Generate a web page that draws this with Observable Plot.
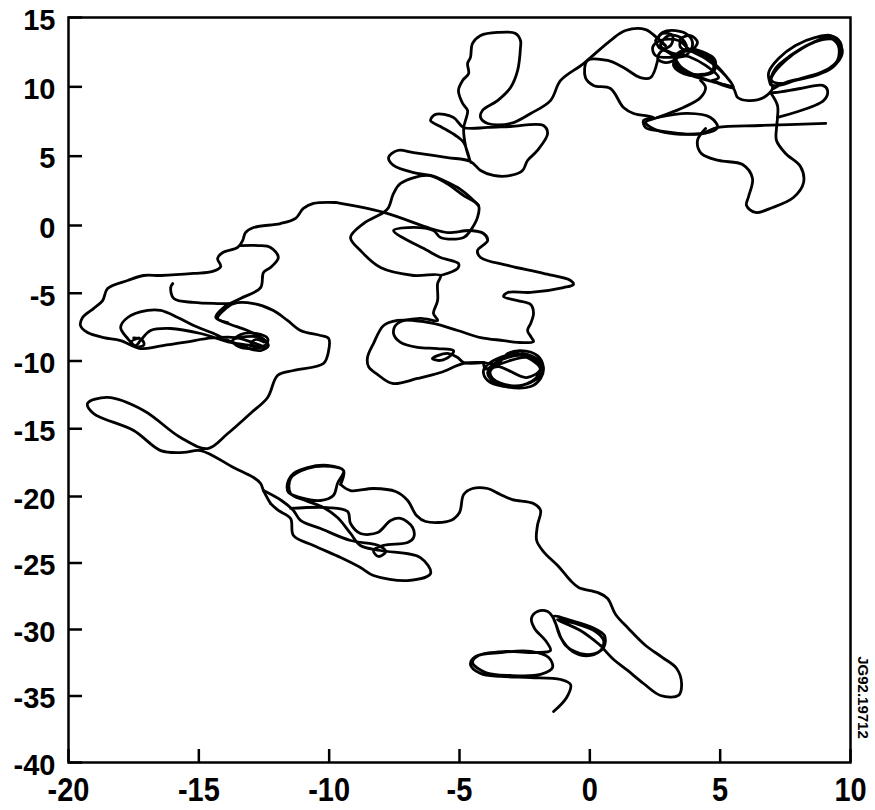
<!DOCTYPE html>
<html><head><meta charset="utf-8">
<script src="https://cdn.jsdelivr.net/npm/d3@7"></script>
<script src="https://cdn.jsdelivr.net/npm/@observablehq/plot@0.6"></script>
<style>html,body{margin:0;padding:0;background:#fff;}</style>
</head><body>
<div id="chart"></div>
<script>
const xTicks = [-20,-15,-10,-5,0,5,10];
const yTicks = [15,10,5,0,-5,-10,-15,-20,-25,-30,-35,-40];
const stamp = "JG92.19712";

const segBottom = [[-1.39,-36.17],[-0.89,-35.11],[-0.74,-34.14],[-1.12,-33.76],[-2.27,-33.61],[-3.43,-33.53],[-4.19,-33.31],[-4.58,-32.63],[-4.38,-32.03],[-3.43,-31.73],[-2.27,-31.65],[-1.58,-32.11],[-1.43,-32.86],[-1.89,-33.38],[-3.04,-33.46],[-4.00,-33.23],[-4.50,-32.48],[-4.27,-31.95],[-3.23,-31.65],[-2.08,-31.73],[-1.51,-31.58],[-1.70,-30.83],[-2.12,-29.92],[-2.24,-29.17],[-2.01,-28.65],[-1.62,-28.65],[-1.39,-29.17],[-1.12,-30.60],[-0.66,-31.65],[0.03,-31.95],[0.53,-31.35],[0.56,-30.45],[0.10,-29.85],[-0.74,-29.32],[-1.39,-29.02],[-1.28,-29.70],[-0.93,-31.20],[-0.17,-31.88],[0.41,-31.58],[0.53,-30.83],[0.22,-30.15],[-0.55,-29.55],[-1.24,-29.25],[-0.36,-30.08],[0.41,-31.20]];
const segTongue = [[0.41,-31.20],[0.87,-32.18],[1.45,-33.08],[2.06,-34.06],[2.71,-34.96],[3.40,-34.96],[3.52,-34.06],[3.33,-32.93],[2.79,-32.11],[2.14,-31.20],[1.48,-29.92],[0.99,-28.87],[0.68,-27.67],[0.30,-27.22],[-0.43,-26.84],[-0.74,-26.32],[-1.20,-25.26],[-1.78,-24.14],[-2.04,-23.31],[-2.01,-22.18],[-1.89,-21.05],[-2.16,-20.53],[-2.97,-20.23],[-3.43,-19.85],[-3.92,-19.41],[-4.50,-19.41],[-4.84,-19.85],[-5.00,-21.20],[-5.34,-21.80],[-6.30,-21.88],[-6.65,-21.43],[-6.99,-20.30],[-7.45,-19.63],[-8.30,-19.41],[-9.18,-19.56],[-9.56,-19.11]];
const segMidLow = [[-9.56,-19.11],[-9.45,-18.08],[-10.06,-17.71],[-10.83,-17.86],[-11.37,-18.30],[-11.60,-19.04],[-11.56,-19.70],[-11.10,-20.08],[-10.33,-20.30],[-9.84,-19.93],[-9.68,-19.04],[-9.45,-18.08],[-9.95,-17.78],[-10.83,-17.93],[-11.48,-18.67],[-11.48,-19.78],[-10.91,-20.30],[-10.22,-20.83],[-9.68,-21.58],[-9.18,-22.78],[-8.80,-23.68],[-8.03,-24.06],[-6.50,-24.59],[-6.11,-25.79],[-6.99,-26.32],[-8.30,-25.94],[-8.80,-25.34],[-9.56,-24.59],[-10.60,-23.68],[-11.37,-22.93],[-11.48,-21.65],[-11.95,-21.05],[-12.25,-20.53]];
const segBump = [[-11.48,-20.90],[-10.06,-20.83],[-9.29,-21.13],[-9.18,-22.03],[-8.80,-22.78],[-8.14,-22.71],[-7.64,-21.80],[-7.26,-21.65],[-6.80,-22.33],[-6.76,-23.08],[-6.99,-23.46],[-7.91,-23.68],[-8.30,-24.06],[-8.11,-24.51],[-7.83,-24.14],[-8.11,-23.68],[-9.18,-23.31],[-10.33,-22.41],[-11.10,-21.80],[-11.37,-21.05],[-11.83,-20.30],[-12.52,-19.56]];
const segLeft = [[-12.25,-20.53],[-12.52,-19.56],[-12.63,-19.04],[-12.90,-18.60],[-13.67,-17.86],[-14.93,-16.61],[-15.58,-16.75],[-16.46,-16.61],[-17.50,-15.13],[-19.04,-13.87],[-19.27,-13.14],[-18.50,-12.69],[-17.12,-13.65],[-15.70,-15.65],[-14.66,-16.46],[-13.89,-15.35],[-13.02,-13.87],[-12.36,-12.69],[-11.98,-11.07],[-11.37,-10.70],[-10.22,-10.18],[-10.02,-9.23],[-10.02,-8.34],[-10.33,-8.12],[-11.10,-7.75],[-11.60,-7.01],[-12.14,-6.27],[-12.90,-5.76],[-13.67,-5.76],[-14.05,-6.27],[-14.28,-6.86],[-13.89,-7.23],[-13.13,-7.75],[-12.55,-8.34],[-12.33,-8.86],[-12.63,-9.23],[-13.21,-9.00],[-13.78,-8.56],[-14.43,-7.97],[-15.20,-7.38],[-15.81,-6.79],[-16.46,-6.27],[-16.96,-6.27],[-17.73,-6.79],[-18.0,-7.53],[-17.73,-8.34],[-17.42,-8.86],[-17.24,-8.49],[-16.85,-7.75],[-16.08,-7.60],[-14.93,-7.97],[-13.78,-8.63],[-13.02,-8.86],[-12.44,-9.00],[-12.82,-8.71],[-13.59,-8.27],[-14.5,-8.3],[-15.5,-8.6],[-16.5,-8.9],[-17.24,-9.08],[-18.0,-8.49],[-18.65,-8.27],[-19.27,-7.90],[-19.54,-7.38],[-19.46,-6.79],[-19.04,-6.13],[-18.69,-5.54],[-18.50,-4.65],[-17.73,-4.06],[-17.12,-3.69],[-16.46,-3.69],[-15.20,-3.54],[-14.47,-3.39],[-14.16,-3.03],[-14.28,-2.44],[-14.08,-1.99],[-13.51,-1.62],[-13.32,-1.11],[-13.21,-0.52],[-12.90,-0.15],[-11.87,0.14],[-11.29,0.51],[-10.99,1.23],[-10.60,1.59],[-9.76,1.66]];
const segLeft2 = [[-16.0,-4.28],[-16.08,-4.58],[-15.96,-5.39],[-15.20,-5.68],[-14.28,-5.76],[-13.67,-5.76]];
const segLeft3 = [[-13.40,-1.48],[-12.71,-1.48],[-12.25,-1.62],[-11.95,-2.36],[-12.25,-3.10],[-12.52,-3.47],[-12.63,-4.58],[-13.40,-5.39],[-14.05,-6.05],[-14.35,-6.79],[-13.89,-7.16]];
const segKnotL = [[-13.71,-8.49],[-13.40,-8.04],[-12.82,-7.97],[-12.36,-8.34],[-12.44,-8.86],[-12.94,-9.08],[-13.48,-8.93],[-13.71,-8.49],[-13.2,-8.2],[-12.6,-8.3],[-12.4,-8.7],[-12.7,-9.0],[-13.0,-8.7],[-12.8,-8.4],[-12.5,-8.6]];
const segKnotL2 = [[-17.5,-8.3],[-17.2,-8.4],[-17.1,-8.8],[-17.4,-8.95],[-17.6,-8.6],[-17.3,-8.3]];
const segMid = [[-9.76,1.66],[-7.91,0.94],[-6.11,-0.22],[-5.46,-0.52],[-4.58,-0.37],[-4.08,-0.59],[-3.92,-1.11],[-4.31,-1.85],[-4.19,-2.36],[-3.15,-2.95],[-1.78,-3.54],[-0.74,-4.06],[-0.63,-4.35],[-1.01,-4.58],[-2.27,-4.94],[-3.15,-4.94],[-3.31,-5.24],[-2.77,-5.54],[-2.27,-5.83],[-2.16,-6.49],[-2.27,-7.23],[-2.39,-7.75],[-2.24,-8.27],[-2.16,-8.56],[-2.77,-8.63],[-3.31,-8.49],[-4.19,-8.27],[-5.07,-7.75],[-6.00,-7.23],[-6.76,-7.01],[-7.38,-7.01],[-7.91,-7.38],[-8.30,-8.71],[-8.53,-9.74],[-8.49,-10.41],[-8.14,-11.00],[-7.57,-11.66],[-6.61,-11.29],[-5.73,-10.85],[-4.84,-10.18],[-4.08,-10.11]];
const segKnot3 = [[-4.08,-10.11],[-3.54,-10.18],[-3.15,-9.45],[-2.66,-9.23],[-2.01,-9.60],[-1.78,-10.48],[-1.89,-11.29],[-2.27,-11.88],[-3.31,-11.88],[-3.92,-11.44],[-4.08,-10.70],[-3.81,-10.11],[-3.23,-9.60],[-2.58,-9.45],[-1.97,-9.96],[-1.85,-10.85],[-2.27,-11.59],[-3.04,-11.81],[-3.73,-11.29],[-3.81,-10.70],[-3.04,-9.96],[-2.27,-9.74],[-1.89,-10.33],[-2.08,-11.29],[-2.85,-11.88],[-3.62,-11.66],[-3.92,-10.85],[-3.54,-10.41],[-2.43,-11.22],[-1.9,-10.6],[-2.6,-9.6],[-3.4,-9.9],[-4.0,-10.6],[-4.08,-10.11]];
const segMid2 = [[-4.08,-10.11],[-4.84,-10.11],[-5.07,-9.74],[-5.42,-9.45],[-5.84,-9.60],[-6.04,-9.82],[-5.73,-9.96],[-5.34,-9.60],[-5.23,-9.23],[-5.84,-9.08],[-6.61,-9.00],[-7.26,-8.63],[-7.53,-7.97],[-7.38,-7.23],[-6.50,-6.86],[-5.84,-7.01],[-6.00,-6.49],[-5.84,-5.54],[-5.84,-4.28],[-5.73,-3.69],[-6.76,-3.69],[-8.03,-3.10],[-8.80,-1.85],[-9.18,-0.89],[-8.68,0.14],[-7.91,0.94],[-7.72,1.30],[-7.53,2.31],[-7.26,3.03],[-6.23,3.61],[-5.61,3.17],[-4.84,2.16],[-4.27,1.44],[-4.31,0.58],[-4.58,-0.37],[-4.84,-0.89],[-5.73,-0.89],[-6.0,-0.37],[-6.99,-0.15],[-7.53,-0.37],[-6.23,-1.85],[-5.73,-2.36],[-5.04,-2.80],[-5.07,-3.17],[-5.73,-3.69]];
const segUpper = [[-4.27,1.44],[-4.58,2.02],[-5.07,2.74],[-5.61,3.25],[-6.11,3.61],[-6.76,3.82],[-7.53,4.33],[-7.72,4.90],[-7.38,5.41],[-6.76,5.26],[-5.46,4.90],[-4.58,4.62],[-4.19,3.97],[-3.70,3.61],[-3.04,3.61],[-2.58,3.97],[-2.39,4.69],[-2.01,5.41],[-1.62,6.63],[-1.78,7.21],[-3.04,7.14],[-3.92,7.07],[-4.84,7.07],[-5.23,7.79],[-5.92,8.01],[-6.11,7.57],[-5.73,7.14],[-5.15,6.49],[-4.84,5.99],[-4.69,5.26],[-4.58,4.54],[-4.77,5.77],[-4.84,7.07],[-4.77,7.57],[-4.69,8.29],[-4.88,8.80],[-5.04,9.74],[-4.88,10.46],[-4.65,10.96],[-4.69,11.68],[-4.58,12.12],[-4.50,13.13],[-4.19,13.70],[-3.54,13.92],[-2.85,13.85],[-2.66,13.34],[-2.66,12.84],[-2.77,11.18],[-3.04,9.95],[-3.54,9.01],[-4.12,8.29],[-4.19,7.79],[-3.92,7.36],[-3.04,7.36],[-2.27,8.08],[-1.51,9.01],[-1.12,10.46],[-0.24,11.68],[0.79,13.34],[1.37,14.06],[2.14,14.13],[2.60,13.49],[2.90,12.98]];
const segKnot1 = [[2.90,12.98],[2.64,13.49],[2.79,13.92],[3.29,14.06],[3.79,13.70],[3.94,12.98],[3.67,12.26],[3.10,12.12],[2.52,12.26],[2.41,12.84],[2.71,13.34],[3.40,13.34],[3.86,12.62],[4.44,12.04],[5.01,11.18],[5.47,10.10],[5.01,10.24],[4.25,10.60],[3.67,11.03],[3.29,11.75],[3.48,12.48],[4.06,12.48],[4.63,11.90],[5.20,10.82],[5.51,9.95],[4.82,10.31],[4.06,10.82],[3.48,11.47],[3.17,12.26],[2.79,12.62],[2.60,12.04],[2.90,11.75],[3.33,12.04],[3.71,12.84],[3.48,13.56],[3.02,13.70],[2.71,12.98],[3.10,12.48],[3.79,12.19],[4.44,11.54],[4.94,10.67],[4.71,10.46]];
const segKnot1b = [[3.29,12.26],[3.67,12.62],[4.25,12.48],[4.71,11.90],[4.71,11.18],[4.25,10.89],[3.67,11.03],[3.29,11.54],[3.29,12.26],[3.75,12.70],[4.30,12.55],[4.80,11.95],[4.75,11.10],[4.20,10.80],[3.60,10.95],[3.22,11.50],[3.29,12.26]];
const segKnot1c = [[2.52,13.34],[2.79,13.85],[3.17,13.70],[3.10,12.98],[2.71,12.76],[2.52,13.34]];
const segKnot1d = [[3.48,13.49],[3.86,13.70],[4.13,13.20],[3.86,12.62],[3.48,12.84],[3.48,13.49]];
const segLobe = [[2.60,11.90],[2.33,10.67],[1.94,10.67],[1.29,11.39],[0.68,11.90],[-0.09,11.90],[-0.17,10.67],[0.14,10.10],[0.79,9.88],[1.29,8.51],[1.68,8.08],[2.45,7.79],[2.06,7.57],[2.14,7.07],[2.60,6.85],[4.36,6.63],[4.90,7.07],[4.63,7.79],[3.75,8.08],[2.60,7.79]];
const segEnd = [[4.25,10.46],[4.44,9.95],[4.25,9.23],[3.59,8.51],[2.60,7.79],[2.14,7.43],[2.71,6.78],[4.25,6.63],[4.90,7.07],[6.55,7.21],[9.05,7.36]];
const segBoot = [[4.44,7.00],[4.13,6.13],[4.28,5.19],[4.94,4.69],[5.86,4.40],[6.24,3.39],[6.09,2.09],[6.01,1.44],[6.36,0.94],[7.01,1.30],[7.81,2.02],[8.20,3.10],[8.08,4.26],[7.51,5.19],[7.16,6.13],[7.16,7.00],[7.20,7.79],[7.20,8.65],[6.93,9.59]];
const segQuad = [[7.20,7.79],[8.97,9.01],[9.12,9.74],[8.93,10.10],[8.08,9.88],[7.12,9.59],[6.93,9.59]];
const segZig = [[4.71,10.46],[5.09,10.17],[5.51,9.88],[5.67,9.23],[6.09,9.01],[6.67,9.23],[7.01,9.88],[6.93,10.31]];
const segKnot2 = [[6.93,10.17],[6.86,11.03],[7.24,12.04],[7.89,12.98],[8.66,13.56],[9.24,13.70],[9.61,13.20],[9.61,12.26],[9.31,11.39],[8.66,10.82],[7.89,10.46],[7.24,10.10],[6.93,10.17],[7.01,10.82],[7.51,11.90],[8.20,12.84],[8.93,13.41],[9.46,13.34],[9.69,12.62],[9.46,11.68],[8.85,11.03],[8.08,10.60],[7.39,10.24],[6.97,10.46],[7.12,11.32],[7.70,12.26],[8.47,13.13],[9.16,13.56],[9.53,12.98],[9.50,11.90],[9.05,11.18],[8.27,10.67],[7.51,10.31],[7.05,9.88]];

const segments = {segBottom, segTongue, segMidLow, segBump, segLeft, segLeft2, segLeft3, segKnotL, segKnotL2, segMid, segKnot3, segMid2, segUpper, segKnot1, segKnot1b, segKnot1c, segKnot1d, segLobe, segEnd, segBoot, segQuad, segZig, segKnot2};
const rows = Object.entries(segments).flatMap(([seg, pts]) => pts.map(([x, y]) => ({seg, x, y})));

const font = "'Liberation Sans',Arial,Helvetica,sans-serif";
const chart = Plot.plot({
  width: 875, height: 810,
  marginLeft: 68, marginRight: 25, marginTop: 17, marginBottom: 48,
  x: {type: "linear", domain: [-20, 10], range: [68, 850]},
  y: {type: "linear", domain: [-40, -20, 0, 15], range: [762, 496, 225, 17]},
  style: {fontFamily: font, background: "white", color: "black"},
  marks: [
    Plot.line(rows, {x: "x", y: "y", z: "seg", stroke: "black", strokeWidth: 2.8, curve: "catmull-rom", strokeLinejoin: "round"}),
    Plot.frame({stroke: "black", strokeWidth: 2.5}),
    Plot.tickY(yTicks, {y: d => d, insetRight: 768, stroke: "black", strokeWidth: 2.5}),
    Plot.tickX(xTicks, {x: d => d, insetTop: 732, stroke: "black", strokeWidth: 2.5}),
    Plot.axisY({ticks: yTicks, tickSize: 0, tickPadding: 13, dy: 3, fontSize: 29, fontWeight: "bold", label: null, tickFormat: d => String(d)}),
    Plot.axisX({ticks: xTicks, tickSize: 0, tickPadding: 15, fontSize: 29, fontWeight: "bold", label: null, tickFormat: d => String(d)}),
    Plot.text([stamp], {text: d => d, frameAnchor: "bottom-right", textAnchor: "middle", lineAnchor: "middle", rotate: 90, dx: 12, dy: -65, fontSize: 15, fontWeight: "bold"})
  ]
});
chart.querySelectorAll('g[aria-label="x-axis tick label"] text').forEach(t => {
  t.setAttribute("transform", (t.getAttribute("transform") || "") + " scale(1,1.12)");
});
document.getElementById("chart").appendChild(chart);
</script>
</body></html>
